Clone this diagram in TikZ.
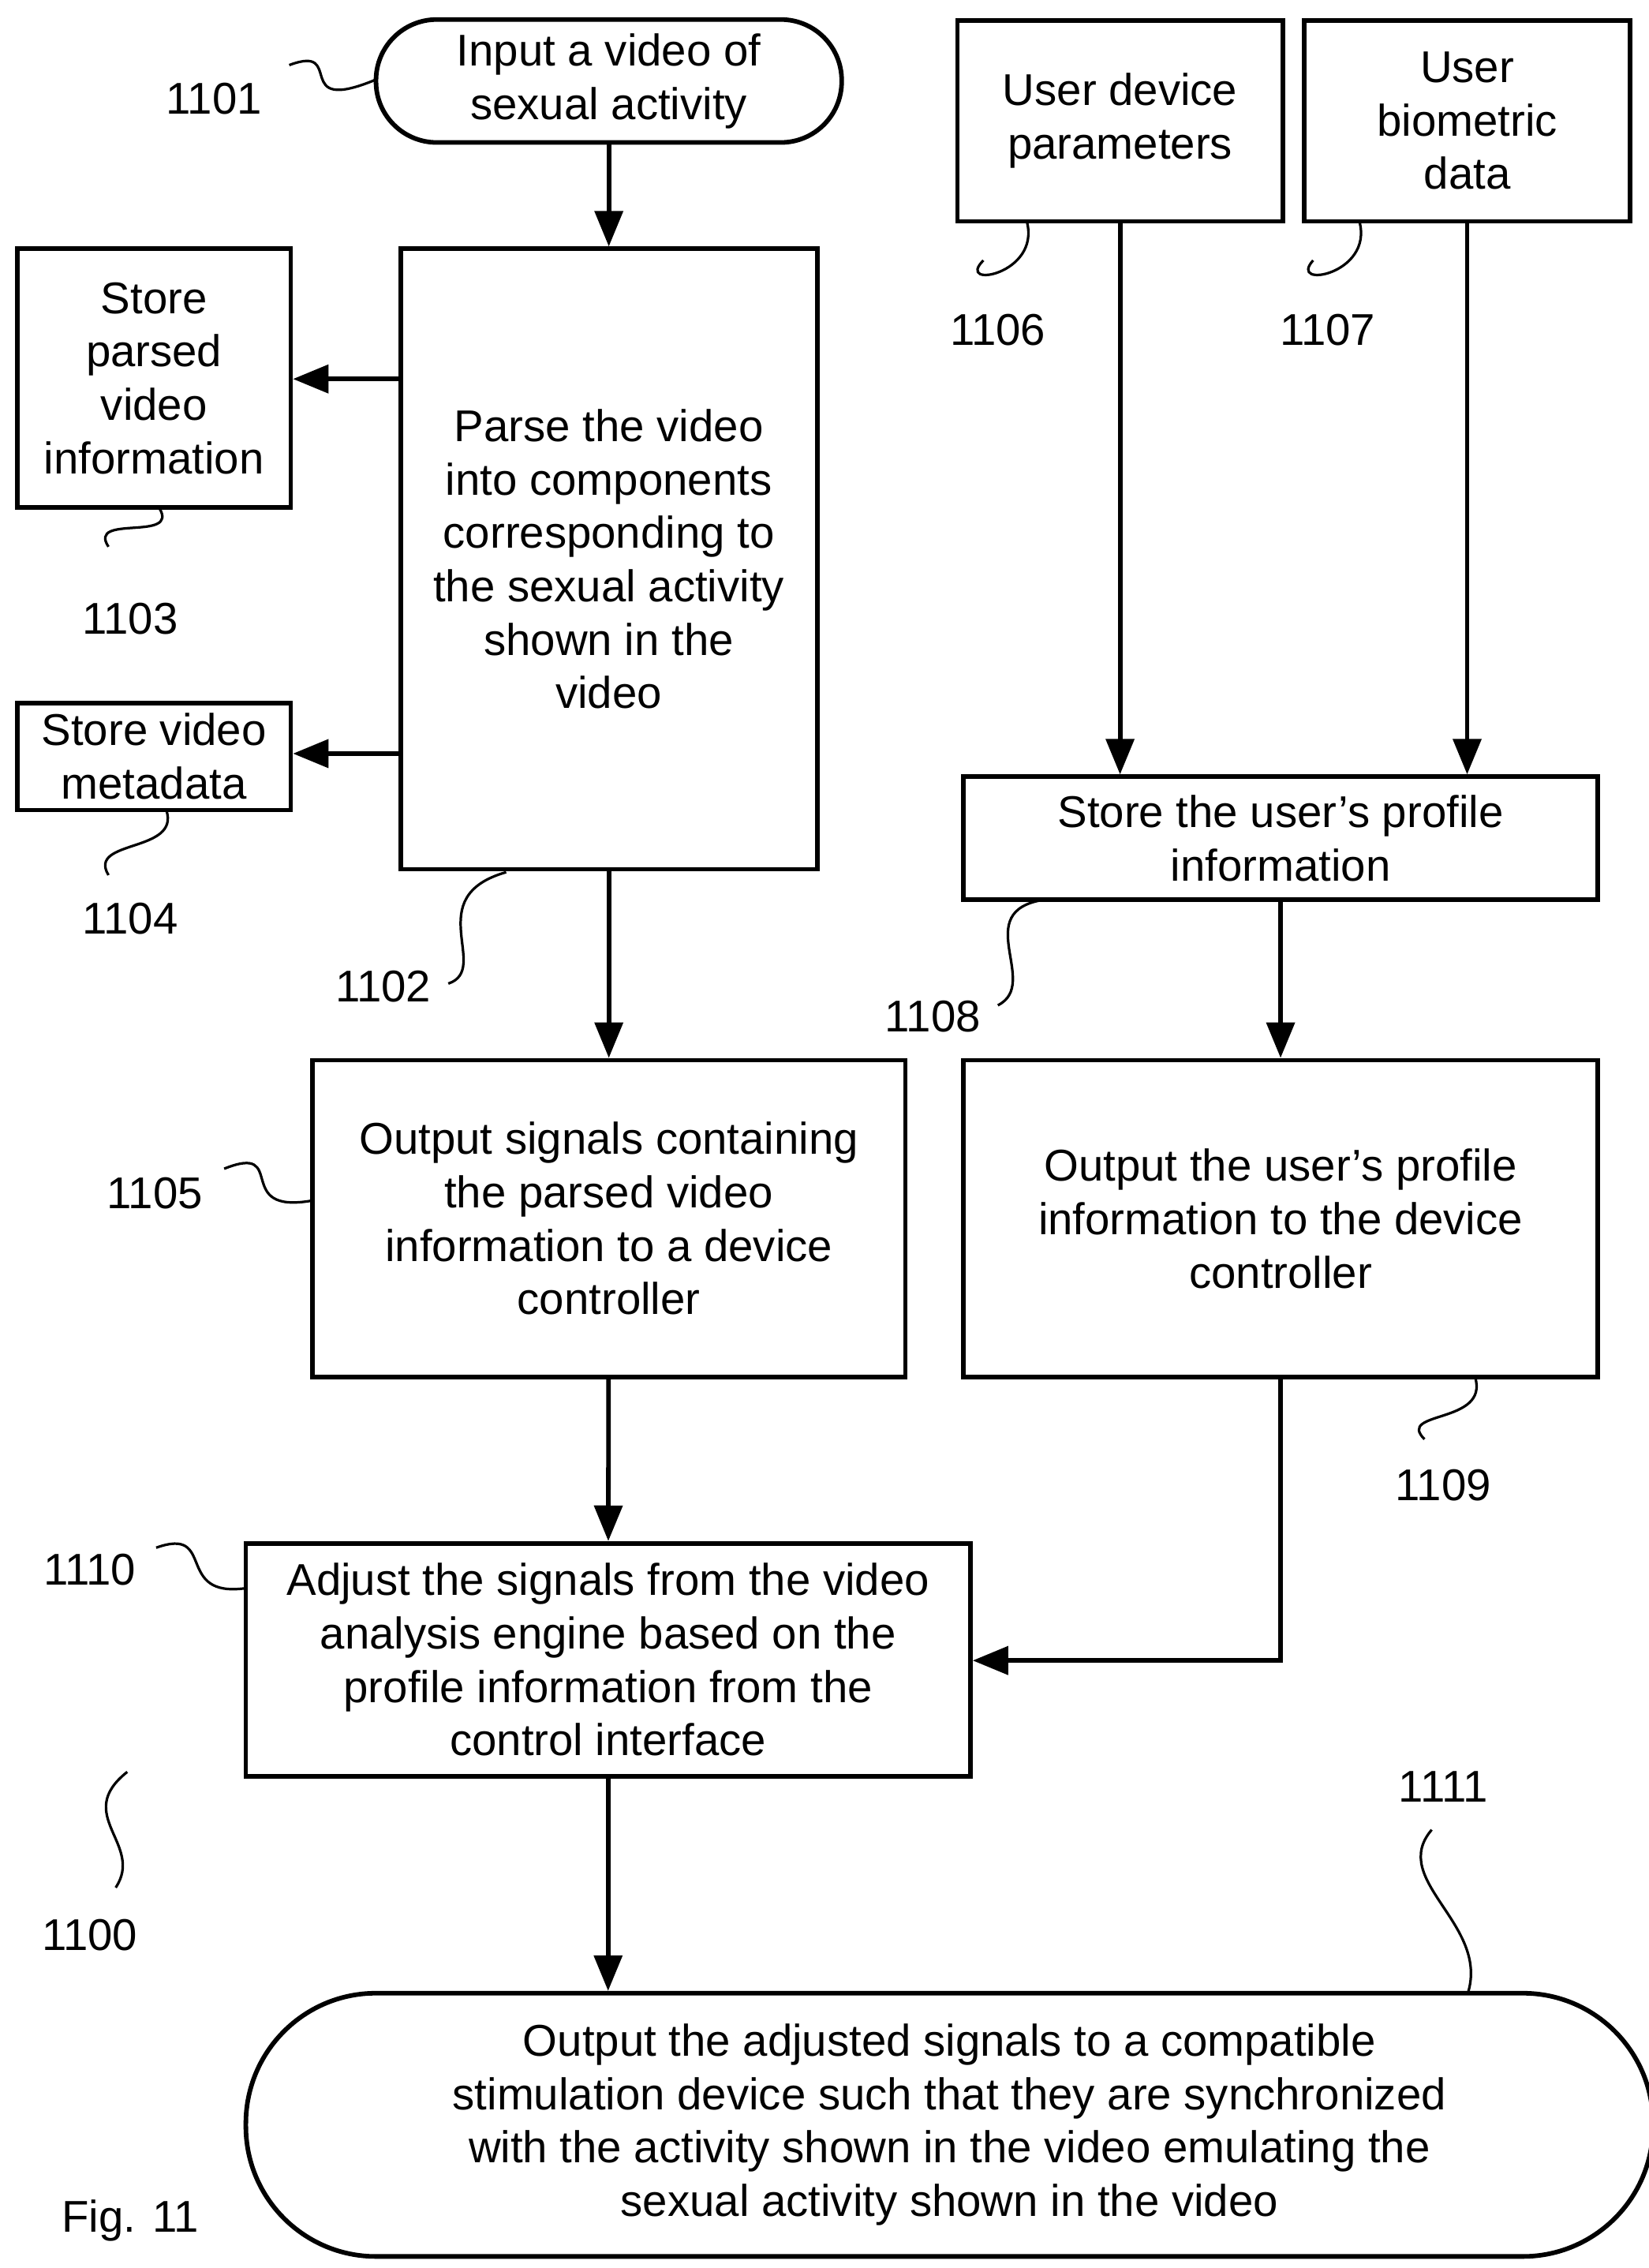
\documentclass[tikz,border=0pt]{standalone}
\usepackage{fontspec}
\setmainfont{Liberation Sans}
\usetikzlibrary{arrows.meta}
\begin{document}
\begin{tikzpicture}[x=0.02cm,y=-0.02cm,
  every node/.style={font=\fontsize{17.5}{21}\selectfont, align=center, inner sep=0pt},
  box/.style={draw, line width=1.8pt, rectangle},
  term/.style={draw, line width=1.8pt, rounded corners=42*0.02cm},
  flow/.style={line width=1.8pt, -{Triangle[length=14pt,width=11pt]}},
  sq/.style={line width=1pt},
  lab/.style={font=\fontsize{17.5}{21}\selectfont}]
\useasboundingbox (0,0) rectangle (1140,1568);
\tikzset{mk/.style args={#1/#2/#3/#4}{}}
% boxes
\node[term, minimum width=322*0.02cm, minimum height=85*0.02cm] (n1101) at (421,56) {Input a video of\\sexual activity};
\node[box, minimum width=288*0.02cm, minimum height=429*0.02cm] (n1102) at (421,386.5) {Parse the video\\into components\\corresponding to\\the sexual activity\\shown in the\\video};
\node[box, minimum width=189*0.02cm, minimum height=179*0.02cm] (n1103) at (106.5,261.5) {Store\\parsed\\video\\information};
\node[box, minimum width=189*0.02cm, minimum height=74*0.02cm] (n1104) at (106.5,523) {Store video\\metadata};
\node[box, minimum width=225*0.02cm, minimum height=139*0.02cm] (n1106) at (774.5,83.5) {User device\\parameters};
\node[box, minimum width=225*0.02cm, minimum height=139*0.02cm] (n1107) at (1014.5,83.5) {User\\biometric\\data};
\node[box, minimum width=439*0.02cm, minimum height=85*0.02cm] (n1108) at (885.5,579.5) {Store the user's profile\\information};
\node[box, minimum width=439*0.02cm, minimum height=219*0.02cm] (n1109) at (885.5,842.5) {Output the user's profile\\information to the device\\controller};
\node[box, minimum width=410*0.02cm, minimum height=219*0.02cm] (n1105) at (421,842.5) {Output signals containing\\the parsed video\\information to a device\\controller};
\node[box, minimum width=501*0.02cm, minimum height=161*0.02cm] (n1110) at (420.5,1147.5) {Adjust the signals from the video\\analysis engine based on the\\profile information from the\\control interface};
\node[term, rounded corners=90*0.02cm, minimum width=973*0.02cm, minimum height=182*0.02cm] (n1111) at (656.5,1469) {Output the adjusted signals to a compatible\\stimulation device such that they are synchronized\\with the activity shown in the video emulating the\\sexual activity shown in the video};
% connectors
\draw[flow] (n1101) -- (n1102);
\draw[flow] (n1102.west |- 0,262) -- (n1103.east |- 0,262);
\draw[flow] (n1102.west |- 0,521) -- (n1104.east |- 0,521);
\draw[flow] (n1102) -- (n1105);
\draw[flow] (n1105) -- (n1110);
\draw[flow] (n1106.south) -- (n1108.north -| n1106.south);
\draw[flow] (n1107.south) -- (n1108.north -| n1107.south);
\draw[flow] (n1108) -- (n1109);
\draw[flow] (n1109.south) |- (n1110.east |- 0,1148);
\draw[flow] (n1110.south) -- (n1111.north -| n1110.south);
% labels
\node[lab] (l1101) at (148,68) {1101};
\node[lab] (l1103) at (90,428) {1103};
\node[lab] (l1104) at (90,635) {1104};
\node[lab] (l1102) at (265,682) {1102};
\node[lab] (l1106) at (690,228) {1106};
\node[lab] (l1107) at (918,228) {1107};
\node[lab] (l1108) at (645,703) {1108};
\node[lab] (l1105) at (107,825) {1105};
\node[lab] (l1109) at (998,1027) {1109};
\node[lab] (l1110) at (62,1085) {1110};
\node[lab] (l1100) at (62,1338) {1100};
\node[lab] (l1111) at (998,1235) {1111};
\node[lab] (fig) at (90,1535) {Fig. 11};
% squiggles
\draw[sq] (200,45) .. controls (240,30) and (200,80) .. (260,55);
\draw[sq] (75,378) .. controls (60,355) and (125,375) .. (110,351);
\draw[sq] (75,605) .. controls (60,580) and (125,590) .. (115,560);
\draw[sq] (310,680) .. controls (340,670) and (290,620) .. (350,603);
\draw[sq] (680,180) .. controls (660,200) and (720,190) .. (710,153);
\draw[sq] (908,180) .. controls (890,200) and (950,190) .. (940,153);
\draw[sq] (690,695) .. controls (720,680) and (670,630) .. (722,622);
\draw[sq] (155,808) .. controls (200,790) and (160,840) .. (216,830);
\draw[sq] (985,995) .. controls (965,975) and (1030,985) .. (1020,952);
\draw[sq] (108,1070) .. controls (150,1055) and (120,1105) .. (170,1098);
\draw[sq] (88,1225) .. controls (50,1255) and (100,1275) .. (80,1305);
\draw[sq] (990,1265) .. controls (960,1300) and (1030,1330) .. (1015,1378);
\end{tikzpicture}
\end{document}
